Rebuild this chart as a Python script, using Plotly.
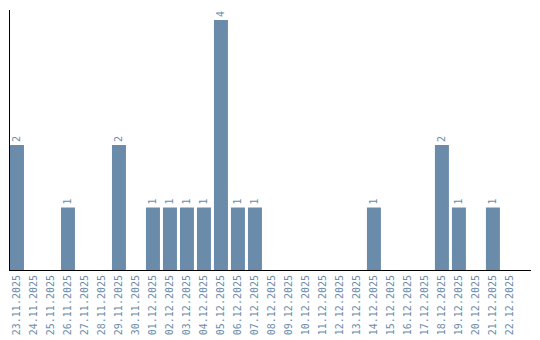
import plotly.graph_objects as go

dates = ["23.11.2025", "24.11.2025", "25.11.2025", "26.11.2025", "27.11.2025",
         "28.11.2025", "29.11.2025", "30.11.2025", "01.12.2025", "02.12.2025",
         "03.12.2025", "04.12.2025", "05.12.2025", "06.12.2025", "07.12.2025",
         "08.12.2025", "09.12.2025", "10.12.2025", "11.12.2025", "12.12.2025",
         "13.12.2025", "14.12.2025", "15.12.2025", "16.12.2025", "17.12.2025",
         "18.12.2025", "19.12.2025", "20.12.2025", "21.12.2025", "22.12.2025"]
counts = [2, 0, 0, 1, 0, 0, 2, 0, 1, 1, 1, 1, 4, 1, 1,
          0, 0, 0, 0, 0, 0, 1, 0, 0, 0, 2, 1, 0, 1, 0]

labels = [str(v) if v else "" for v in counts]
bar_color = "#6a8caa"
text_color = "#6a8caa"

fig = go.Figure(go.Bar(
    x=dates, y=counts, text=labels, textposition="outside", textangle=-90,
    textfont=dict(family="DejaVu Sans Mono", size=10, color=text_color),
    marker=dict(color=bar_color, line=dict(width=0)),
    width=14/17, cliponaxis=False,
))

fig.update_layout(
    width=540, height=340,
    margin=dict(l=10, r=9, t=10, b=70, autoexpand=False),
    paper_bgcolor="white", plot_bgcolor="white",
    showlegend=False,
    xaxis=dict(type="category", range=[-0.41, 30.24], showgrid=False,
               showline=True, linecolor="black", linewidth=1, ticks="",
               tickangle=-90, automargin=False,
               tickfont=dict(family="DejaVu Sans Mono", size=10, color=text_color)),
    yaxis=dict(range=[0, 4.16], showgrid=False, zeroline=False,
               showline=True, linecolor="black", linewidth=1,
               showticklabels=False, ticks="", automargin=False),
)

fig.write_html("out.html")
